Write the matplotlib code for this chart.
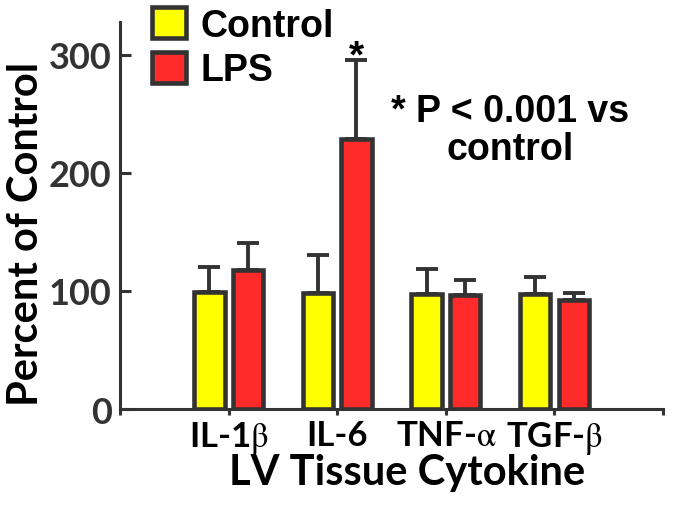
import numpy as np
import matplotlib
matplotlib.use('Agg')
import matplotlib.pyplot as plt

# data
cytokines = ['IL-1$\\mathrm{\\beta}$', 'IL-6', 'TNF-$\\mathrm{\\alpha}$', 'TGF-$\\mathrm{\\beta}$']
control_mean = [99, 98.5, 97.5, 97.5]
control_err = [21, 32, 21, 14.5]
lps_mean = [118, 229, 96.6, 92.4]
lps_err = [23, 67, 12.5, 5.6]
groups = ['Control', 'LPS']

plt.rcParams['mathtext.fontset'] = 'stix'

edge = '#333333'
fig = plt.figure(figsize=(6.73, 5.06), dpi=100)
ax = fig.add_axes([0.1783, 0.1897, 0.807, 0.765])

x = np.arange(1, len(cytokines) + 1)
w = 0.28
off = 0.177
lw = 3.3
b1 = ax.bar(x - off, control_mean, w, color='#ffff00', edgecolor=edge, linewidth=lw, zorder=3, label=groups[0])
b2 = ax.bar(x + off, lps_mean, w, color='#ff2a2a', edgecolor=edge, linewidth=lw, zorder=3, label=groups[1])
ax.errorbar(x - off, control_mean, yerr=[np.zeros(4), control_err], fmt='none',
            ecolor=edge, elinewidth=2.8, capsize=8, capthick=2.8, zorder=2)
ax.errorbar(x + off, lps_mean, yerr=[np.zeros(4), lps_err], fmt='none',
            ecolor=edge, elinewidth=2.8, capsize=8, capthick=2.8, zorder=2)

ax.set_xlim(0, 5)
ax.set_ylim(0, 328)
ax.set_yticks([0, 100, 200, 300])
ax.set_xticks([0, 1, 2, 3, 4, 5])
ax.set_xticklabels([''] + cytokines + [''])

for s in ['top', 'right']:
    ax.spines[s].set_visible(False)
for s in ['left', 'bottom']:
    ax.spines[s].set_color(edge)
    ax.spines[s].set_linewidth(2.2)

ax.tick_params(axis='y', direction='in', length=8, width=2.2, color=edge,
               labelsize=26, labelcolor=edge, pad=6)
ax.tick_params(axis='x', direction='out', length=4, width=2.2, color=edge,
               labelsize=25, labelcolor='black', pad=3)
for t in ax.get_yticklabels() + ax.get_xticklabels():
    t.set_fontfamily('Lato')
    t.set_fontweight('bold')

ax.set_ylabel('Percent of Control', fontsize=30, fontweight='bold', family='Lato')
ax.yaxis.set_label_coords(-0.138, 0.455)
ax.set_xlabel('LV Tissue Cytokine', fontsize=30, fontweight='bold', family='Lato', va='baseline')
ax.xaxis.set_label_coords(0.529, -0.194)

# significance marks
ax.text(x[1] + off, lps_mean[1] + lps_err[1] - 6, '*', ha='center', va='baseline',
        fontsize=28, fontweight='bold', family='Liberation Sans')
fig.text(0.758, 0.741, '* P < 0.001 vs\ncontrol', ha='center', va='center',
         fontsize=27, fontweight='bold', family='Liberation Sans', linespacing=1.05)

leg = ax.legend(handles=[b1, b2], loc='upper left', bbox_to_anchor=(0.226, 0.984),
                bbox_transform=fig.transFigure, frameon=False,
                prop={'family': 'Liberation Sans', 'weight': 'bold', 'size': 27},
                handlelength=0.9, handleheight=0.9, handletextpad=0.4,
                labelspacing=0.22, borderpad=0, borderaxespad=0)

fig.savefig('out.png', dpi=100)
